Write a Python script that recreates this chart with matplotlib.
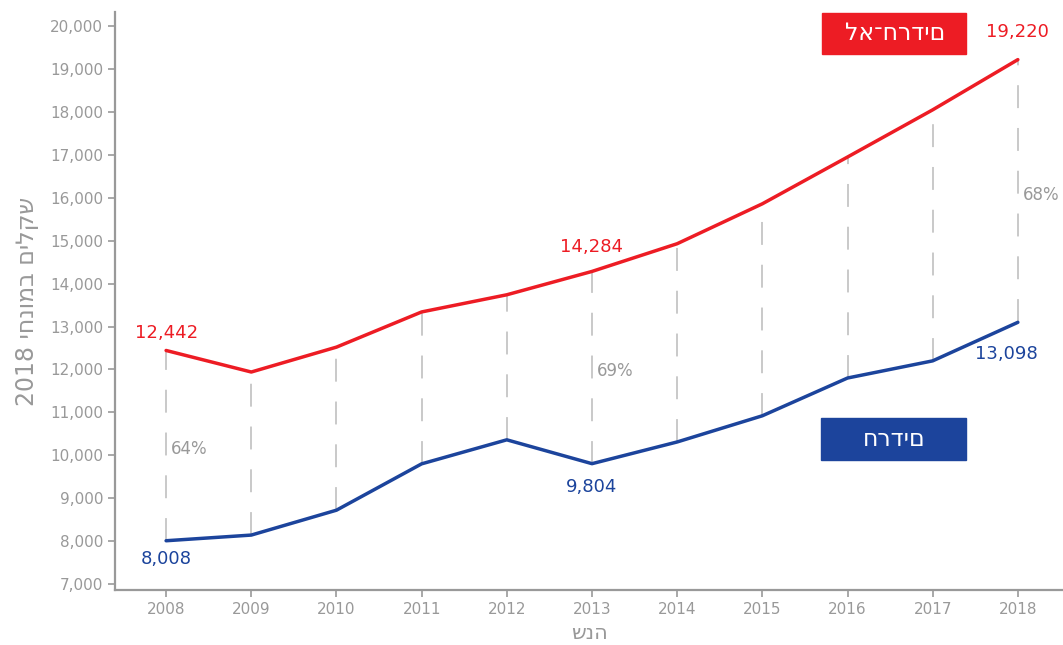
import matplotlib.pyplot as plt
from matplotlib.patches import Rectangle
from matplotlib.ticker import FuncFormatter

# data (2018 shekels)
years = [2008, 2009, 2010, 2011, 2012, 2013, 2014, 2015, 2016, 2017, 2018]
non_haredi = [12442, 11940, 12520, 13340, 13740, 14284, 14930, 15860, 16950, 18050, 19220]
haredi = [8008, 8140, 8720, 9800, 10360, 9804, 10310, 10920, 11800, 12200, 13098]

# labelled points and the share labels beside them
label_idx = [0, 5, 10]
pct_labels = ['64%', '69%', '68%']

# texts as they appear in the picture
legend_non_haredi = 'לא־חרדים'
legend_haredi = 'חרדים'
ylabel = '2018 יחנומב םילקש'     # שקלים במונחי 2018, visual order
xlabel = 'שנה'

red = '#ED1C24'
blue = '#1C449C'
grey = '#999999'

plt.rcParams['font.family'] = ['DejaVu Sans']

W, H = 1063, 645
fig = plt.figure(figsize=(W / 100, H / 100), dpi=100)
ax = fig.add_axes([115 / W, 1 - 590 / H, 1 - 115 / W, (590 - 12) / H])

# dashed connectors between the two series
for x, a, b in zip(years, non_haredi, haredi):
    ax.plot([x, x], [b, a], color='#bbbbbb', lw=1.1, dashes=(15, 13), zorder=1)

ax.plot(years, non_haredi, color=red, lw=2.5, zorder=3, solid_capstyle='round')
ax.plot(years, haredi, color=blue, lw=2.5, zorder=3, solid_capstyle='round')

# value labels
red_off = {0: 410, 5: 570, 10: 650}
blue_off = {0: -425, 5: -540, 10: -740}
for i in label_idx:
    ax.text(years[i], non_haredi[i] + red_off[i], f'{non_haredi[i]:,}', color=red,
            fontsize=13, ha='center', va='center')
    dx = -0.13 if i == 10 else 0
    ax.text(years[i] + dx, haredi[i] + blue_off[i], f'{haredi[i]:,}', color=blue,
            fontsize=13, ha='center', va='center')

# share labels next to the dashed line
pct_y = [10150, 11965, 16070]
for i, t, y in zip(label_idx, pct_labels, pct_y):
    ax.text(years[i] + 0.06, y, t, color=grey, fontsize=12, ha='left', va='center')

ax.set_xlim(2007.4, 2018.53)
ax.set_ylim(6860, 20330)
ax.set_xticks(years)
ax.set_yticks(range(7000, 20001, 1000))
ax.yaxis.set_major_formatter(FuncFormatter(lambda v, p: f'{int(v):,}'))

for s in ['top', 'right']:
    ax.spines[s].set_visible(False)
for s in ['left', 'bottom']:
    ax.spines[s].set_color(grey)
    ax.spines[s].set_linewidth(1.6)
ax.tick_params(axis='both', colors=grey, labelcolor=grey, labelsize=11, length=5, width=1.2)
ax.tick_params(axis='x', pad=4)

ax.set_ylabel(ylabel, color=grey, fontsize=17, labelpad=8)
ax.set_xlabel(xlabel, color=grey, fontsize=15, labelpad=4)

# legend boxes
fig.patches.append(Rectangle((822 / W, 1 - 54 / H), 144 / W, 41 / H, transform=fig.transFigure,
                             color=red, zorder=5))
fig.text(895 / W, 1 - 33.5 / H, legend_non_haredi, color='white', fontsize=17,
         ha='center', va='center', zorder=6)
fig.patches.append(Rectangle((821 / W, 1 - 460 / H), 145 / W, 42 / H, transform=fig.transFigure,
                             color=blue, zorder=5))
fig.text(894 / W, 1 - 439 / H, legend_haredi, color='white', fontsize=17,
         ha='center', va='center', zorder=6)

fig.savefig('out.png', dpi=100)
